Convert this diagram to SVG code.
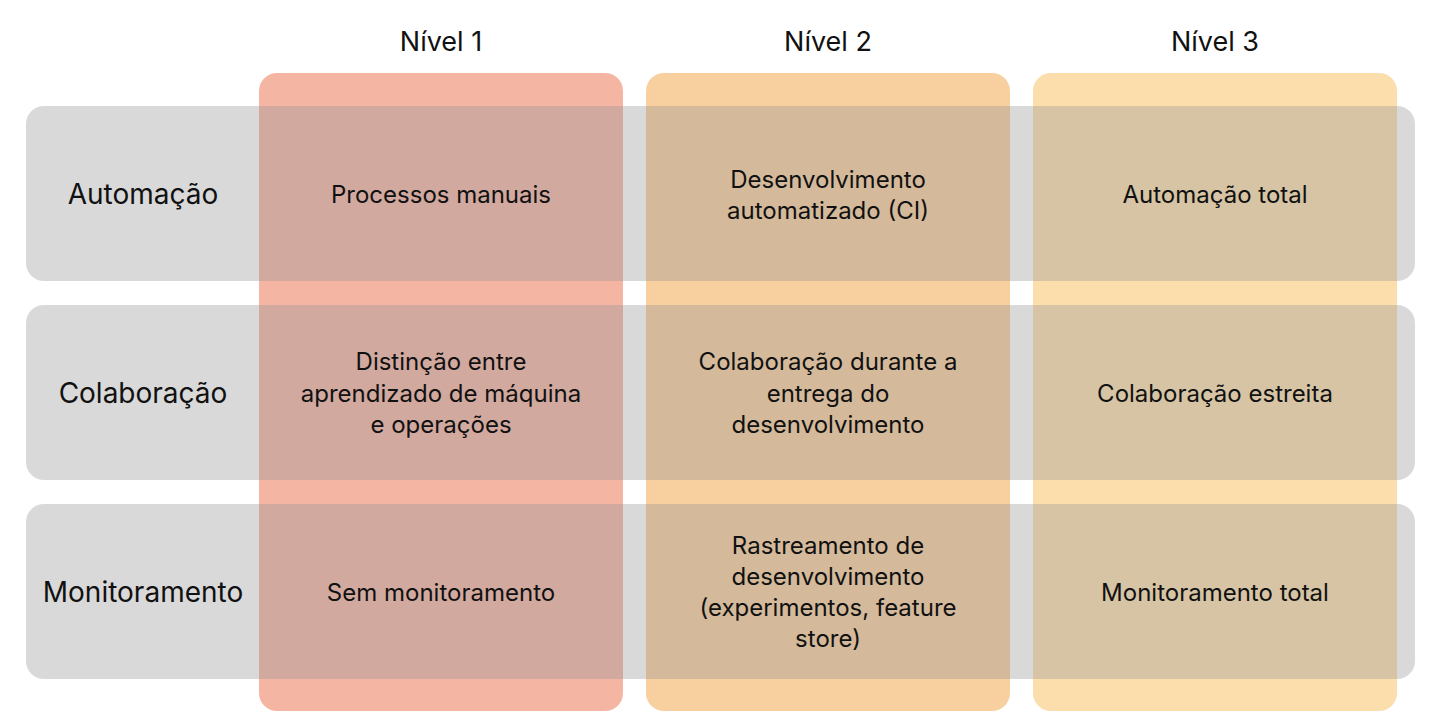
<svg xmlns="http://www.w3.org/2000/svg" width="1440" height="720" viewBox="0 0 1440 720">
<style>
text{font-family:Inter,"Open Sans",sans-serif;fill:#111;text-anchor:middle;dominant-baseline:central}
.h{font-size:27px}
.r{font-size:28px}
.c{font-size:24px}
.row{fill:#959595;fill-opacity:0.36}
</style>
<rect width="1440" height="720" fill="#fff"/>
<g id="col1"><rect x="259" y="73" width="364" height="638" rx="18" fill="#f4b5a3"/><text class="h" x="441" y="41">Nível 1</text></g>
<g id="col2"><rect x="646" y="73" width="364" height="638" rx="18" fill="#f8cf9f"/><text class="h" x="828" y="41">Nível 2</text></g>
<g id="col3"><rect x="1033" y="73" width="364" height="638" rx="18" fill="#fbdeac"/><text class="h" x="1215" y="41">Nível 3</text></g>
<g id="row1"><rect class="row" x="26" y="106" width="1389" height="175" rx="18"/><text class="r" x="143" y="194">Automação</text>
<text class="c" x="441" y="194">Processos manuais</text>
<text class="c" x="828" y="179">Desenvolvimento</text><text class="c" x="828" y="210">automatizado (CI)</text>
<text class="c" x="1215" y="194">Automação total</text></g>
<g id="row2"><rect class="row" x="26" y="305" width="1389" height="175" rx="18"/><text class="r" x="143" y="393">Colaboração</text>
<text class="c" x="441" y="361">Distinção entre</text><text class="c" x="441" y="393">aprendizado de máquina</text><text class="c" x="441" y="424">e operações</text>
<text class="c" x="828" y="361">Colaboração durante a</text><text class="c" x="828" y="393">entrega do</text><text class="c" x="828" y="424">desenvolvimento</text>
<text class="c" x="1215" y="393">Colaboração estreita</text></g>
<g id="row3"><rect class="row" x="26" y="504" width="1389" height="175" rx="18"/><text class="r" x="143" y="592">Monitoramento</text>
<text class="c" x="441" y="592">Sem monitoramento</text>
<text class="c" x="828" y="545">Rastreamento de</text><text class="c" x="828" y="576">desenvolvimento</text><text class="c" x="828" y="607">(experimentos, feature</text><text class="c" x="828" y="638">store)</text>
<text class="c" x="1215" y="592">Monitoramento total</text></g>
<g id="connectors"/>
</svg>
